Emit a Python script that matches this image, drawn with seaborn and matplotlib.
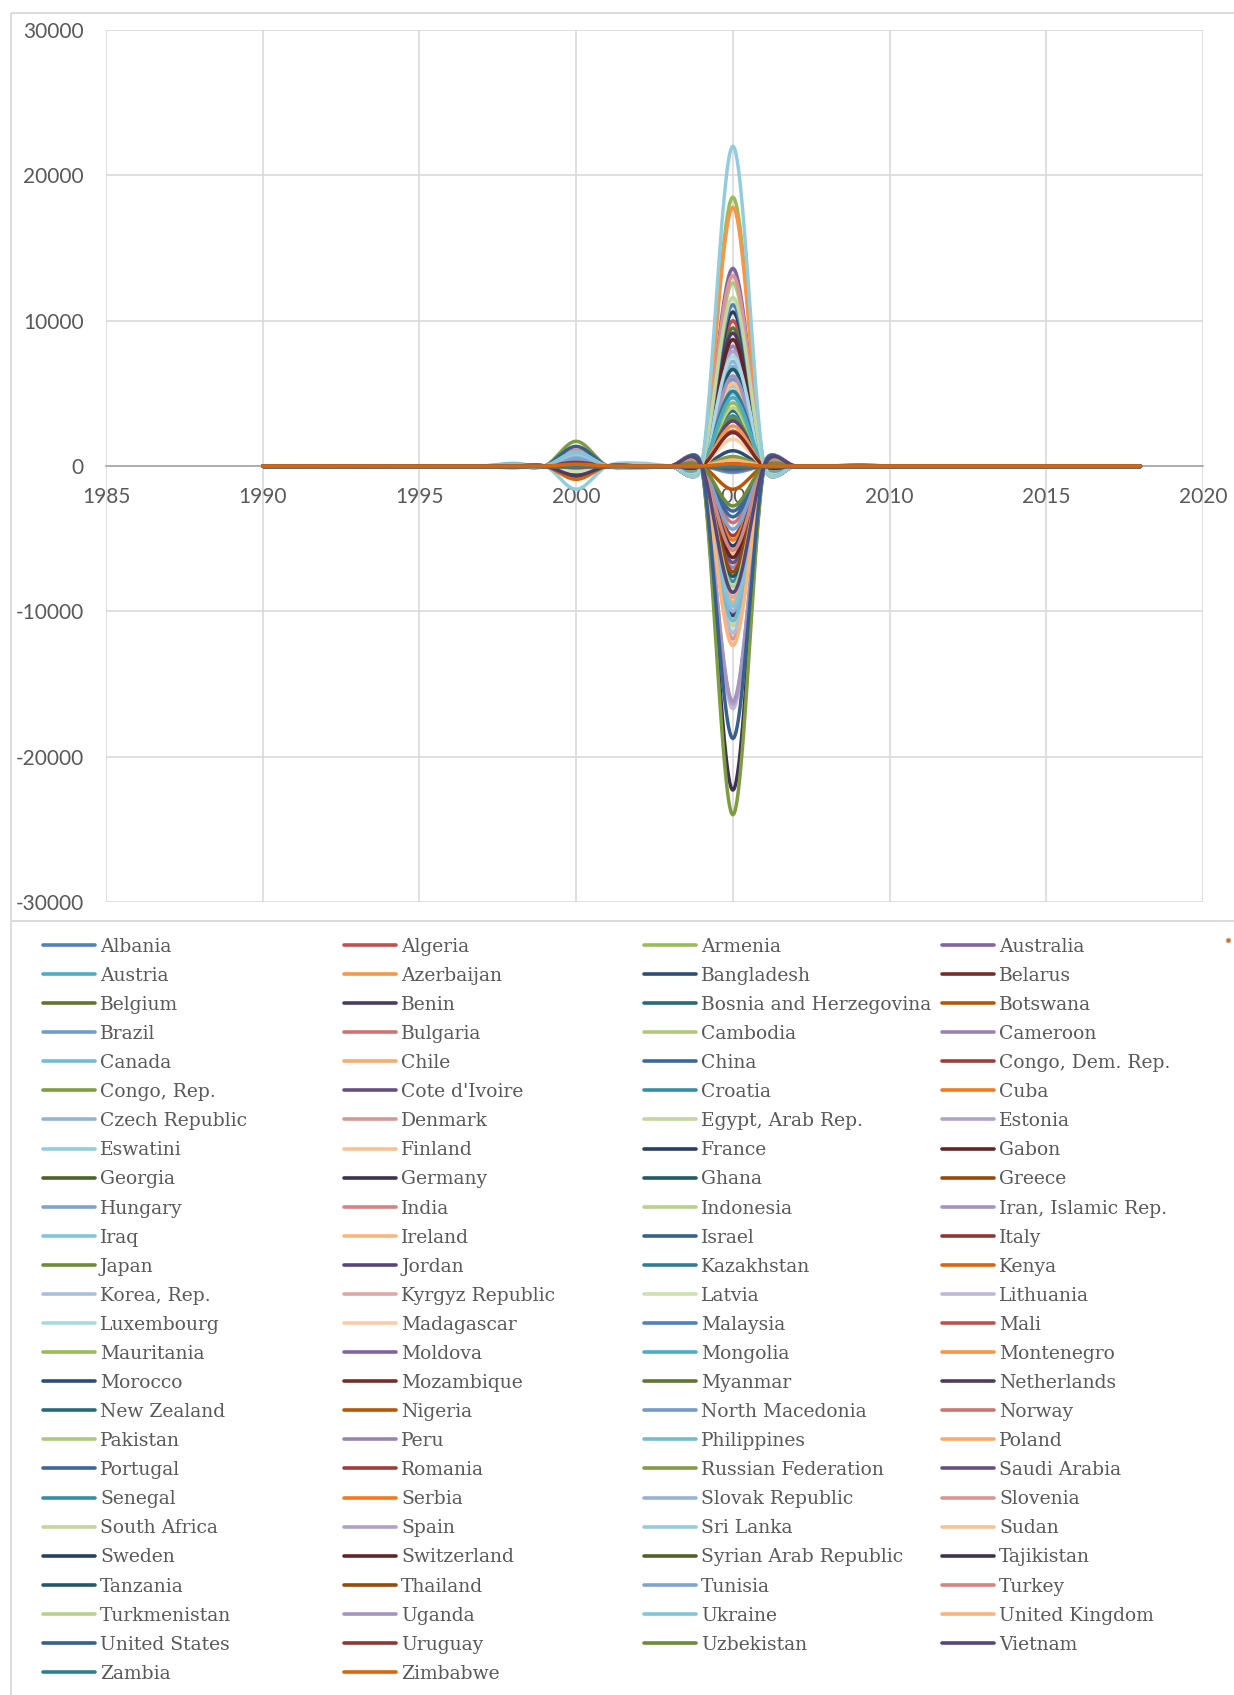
import numpy as np
import pandas as pd
import matplotlib
matplotlib.use("Agg")
import matplotlib.pyplot as plt
import seaborn as sns

years = list(range(1990, 2019))

countries = [
    "Albania", "Algeria", "Armenia", "Australia",
    "Austria", "Azerbaijan", "Bangladesh", "Belarus",
    "Belgium", "Benin", "Bosnia and Herzegovina", "Botswana",
    "Brazil", "Bulgaria", "Cambodia", "Cameroon",
    "Canada", "Chile", "China", "Congo, Dem. Rep.",
    "Congo, Rep.", "Cote d'Ivoire", "Croatia", "Cuba",
    "Czech Republic", "Denmark", "Egypt, Arab Rep.", "Estonia",
    "Eswatini", "Finland", "France", "Gabon",
    "Georgia", "Germany", "Ghana", "Greece",
    "Hungary", "India", "Indonesia", "Iran, Islamic Rep.",
    "Iraq", "Ireland", "Israel", "Italy",
    "Japan", "Jordan", "Kazakhstan", "Kenya",
    "Korea, Rep.", "Kyrgyz Republic", "Latvia", "Lithuania",
    "Luxembourg", "Madagascar", "Malaysia", "Mali",
    "Mauritania", "Moldova", "Mongolia", "Montenegro",
    "Morocco", "Mozambique", "Myanmar", "Netherlands",
    "New Zealand", "Nigeria", "North Macedonia", "Norway",
    "Pakistan", "Peru", "Philippines", "Poland",
    "Portugal", "Romania", "Russian Federation", "Saudi Arabia",
    "Senegal", "Serbia", "Slovak Republic", "Slovenia",
    "South Africa", "Spain", "Sri Lanka", "Sudan",
    "Sweden", "Switzerland", "Syrian Arab Republic", "Tajikistan",
    "Tanzania", "Thailand", "Tunisia", "Turkey",
    "Turkmenistan", "Uganda", "Ukraine", "United Kingdom",
    "United States", "Uruguay", "Uzbekistan", "Vietnam",
    "Zambia", "Zimbabwe",
]

# Yearly values per country (same order as `countries`);
# every year not listed below is zero for all countries.
val_1998 = [
    0, 0, 0, 0,
    0, 0, 0, 0,
    0, 0, 0, 0,
    0, 0, 0, 0,
    180, 0, 0, 0,
    0, 0, 0, 0,
    0, 0, 0, 0,
    -150, 0, 0, 0,
    0, 0, 0, 0,
    0, 0, 0, 0,
    120, 0, 0, 0,
    0, 0, 0, 0,
    0, 0, 0, 0,
    0, 0, 0, 0,
    0, 0, 0, 0,
    0, 0, 0, 0,
    0, 0, 0, 0,
    0, 0, 0, 0,
    0, 0, 0, 0,
    0, 0, 0, 0,
    0, 0, 0, 0,
    0, 0, 0, 0,
    0, 0, 0, 0,
    0, 0, 0, 0,
    0, 0, 0, 0,
    0, 0,
]

val_2000 = [
    0, 250, 0, -300,
    0, 0, 600, 0,
    0, -450, 0, 0,
    0, 0, -350, 0,
    700, 0, 300, 0,
    1700, 0, -250, -150,
    400, 1100, -550, 0,
    -1600, 0, 0, 0,
    0, -700, 0, 0,
    500, 0, 0, 0,
    900, 0, 1350, 250,
    0, -560, 0, -920,
    800, 0, -400, 0,
    0, 0, 0, 0,
    0, 0, 0, 0,
    0, 0, 0, -650,
    0, 0, 0, 0,
    0, 0, 0, 0,
    0, 0, 0, 0,
    0, 0, 0, 0,
    0, 0, 0, 0,
    0, 0, 0, 0,
    0, 0, 0, 0,
    0, 0, 950, 0,
    0, 0, 0, 0,
    0, 120,
]

val_2002 = [
    0, 0, 0, 0,
    0, 0, 0, 0,
    0, 0, 0, 0,
    0, 0, 0, 0,
    120, 0, 0, 0,
    0, 0, 0, 0,
    0, 0, 0, 0,
    200, 0, 0, 0,
    0, 0, 0, 0,
    0, 0, 0, 0,
    -150, 0, 0, 0,
    0, 0, 0, 0,
    0, 0, 0, 0,
    0, 0, 0, 0,
    0, 0, 0, 0,
    0, 0, 0, 0,
    0, 0, 0, 0,
    0, 0, 0, 0,
    0, 0, 0, 0,
    0, 0, 0, 0,
    0, 0, 0, 0,
    0, 0, 0, 0,
    0, 0, 0, 0,
    0, 0, 0, 0,
    0, 0, 0, 0,
    0, 0,
]

val_2005 = [
    300, 10000, 18500, 13600,
    -450, 17800, 1050, 200,
    9500, 9150, 3800, -250,
    5950, 0, 12600, 8250,
    6850, 500, -3100, -150,
    650, 0, 3450, 0,
    7200, -11900, -11000, 7900,
    5500, 5700, 10600, 8700,
    0, -22300, 6650, 0,
    -300, 0, 4000, 6200,
    5000, 400, 0, 0,
    3300, 3100, 5150, 0,
    -11500, -9050, 0, -16700,
    7550, 1850, 11100, 2400,
    4350, -350, 4700, 2750,
    0, 2300, 0, -10300,
    -200, -1600, 0, -3900,
    0, -7000, -10650, -9400,
    -3500, -4800, -24000, -6650,
    -7950, -5100, -10000, 13100,
    11600, -16400, 22000, -6050,
    -5500, -6300, 0, 0,
    -7600, -7300, -4350, -5800,
    -8300, -16200, -9650, -12350,
    -18750, 0, -2750, -8700,
    0, 150,
]

val_2009 = [
    0, 0, 0, 0,
    0, 0, 0, 0,
    0, 0, 0, 0,
    0, 0, 0, 0,
    0, 0, 0, 0,
    0, 0, 0, 0,
    0, 0, 0, 0,
    0, 0, 0, 0,
    60, 0, 0, 0,
    0, 0, 0, 0,
    0, 0, 0, 0,
    0, 0, 0, 0,
    0, 0, 0, 0,
    0, 0, 0, 0,
    0, 0, 0, 0,
    0, 0, 50, 0,
    0, 0, 0, 0,
    0, 0, 0, 0,
    0, 0, 0, 0,
    0, 0, 0, 0,
    0, 0, 0, 0,
    0, 0, 0, 0,
    0, 0, 0, 0,
    0, 0, 0, 0,
    0, 0, 0, 0,
    0, 0,
]

# Office-style series colours: six accents and their shade/tint variants
office_colors = [
    "#4F81BD", "#C0504D", "#9BBB59", "#8064A2", "#4BACC6", "#F79646",
    "#2C4D75", "#772C2A", "#5F7530", "#4D3B62", "#276A7C", "#B65708",
    "#729ACA", "#CD7371", "#AFC97A", "#9983B5", "#6FBDD1", "#F9AB6B",
    "#3A679C", "#9F3B38", "#7E9D40", "#664F83", "#358EA6", "#F37A1F",
    "#95B3D7", "#D99694", "#C3D69B", "#B2A1C7", "#93CDDD", "#FAC090",
    "#254061", "#632523", "#4F6228", "#3F3151", "#215967", "#984807",
    "#7EA3D2", "#D48482", "#B9D28A", "#A594C0", "#80C6D8", "#FAB47C",
    "#37608F", "#8E3634", "#6E8B37", "#58467A", "#2E7E93", "#D9650C",
    "#A8C0DF", "#DFA8A6", "#CFE0B1", "#C3B6D6", "#A8D8E5", "#FBCCA6",
]
palette = {c: office_colors[i % len(office_colors)] for i, c in enumerate(countries)}

yearly = {1998: val_1998, 2000: val_2000, 2002: val_2002,
          2005: val_2005, 2009: val_2009}
table = pd.DataFrame(0.0, index=countries, columns=years)
for yr, vals in yearly.items():
    table[yr] = vals

sns.set_theme(style="white")
plt.rcParams["font.family"] = ["Lato", "DejaVu Sans"]
plt.rcParams["axes.unicode_minus"] = False

W, H = 1234, 1695
fig = plt.figure(figsize=(W / 100, H / 100), dpi=100)

# frame and legend layer in pixel coordinates
lax = fig.add_axes([0, 0, 1, 1], zorder=0)
lax.set_xlim(0, W)
lax.set_ylim(H, 0)
lax.axis("off")

ax = fig.add_axes([106 / W, 1 - 902 / H, 1097 / W, 872 / H], zorder=1)
ax.patch.set_alpha(0)
ax.set_xlim(1985, 2020)
ax.set_ylim(-30000, 30000)
ax.set_xticks(range(1985, 2021, 5))
ax.set_yticks(range(-30000, 30001, 10000))
ax.grid(True, color="#D9D9D9", lw=1.2)
ax.set_axisbelow(True)
for side in ["top", "right", "left"]:
    ax.spines[side].set_visible(False)
ax.spines["bottom"].set_position(("data", 0))
ax.spines["bottom"].set_color("#A6A6A6")
ax.spines["bottom"].set_linewidth(1.2)
ax.spines["bottom"].set_zorder(0.6)
ax.tick_params(length=0, labelsize=15, labelcolor="#595959")
ax.tick_params(axis="x", pad=15)
ax.tick_params(axis="y", pad=16)


def smooth_curve(xv, yv, k=0.8, n=30):
    """Bezier smoothing computed in screen space (spreadsheet-style smoothed line)."""
    P = ax.transData.transform(np.column_stack([xv, yv]))
    m = len(P)
    t = np.linspace(0, 1, n)[1:, None]
    pieces = [P[:1]]
    for i in range(m - 1):
        p0, p1 = P[max(i - 1, 0)], P[i]
        p2, p3 = P[i + 1], P[min(i + 2, m - 1)]
        d12 = np.hypot(*(p2 - p1))

        def arm(a, b):
            v = b - a
            L = np.hypot(*v)
            if L == 0:
                return np.zeros(2)
            return v / L * min(L / 6.0, k * d12)

        c1 = p1 + arm(p0, p2)
        c2 = p2 - arm(p1, p3)
        seg = ((1 - t) ** 3) * p1 + 3 * ((1 - t) ** 2) * t * c1 \
            + 3 * (1 - t) * t ** 2 * c2 + t ** 3 * p2
        pieces.append(seg)
    D = ax.transData.inverted().transform(np.vstack(pieces))
    return D[:, 0], D[:, 1]


frames = []
for c in countries:
    sx, sy = smooth_curve(np.array(years, float), table.loc[c].values.astype(float))
    frames.append(pd.DataFrame({"year": sx, "value": sy, "country": c}))
curves = pd.concat(frames, ignore_index=True)

sns.lineplot(data=curves, x="year", y="value", hue="country",
             hue_order=countries, palette=palette, sort=False,
             estimator=None, legend=False, lw=2.5,
             solid_capstyle="round", ax=ax)
ax.set_xlabel("")
ax.set_ylabel("")

# chart frame
frame_kw = dict(color="#D9D9D9", lw=1.3, solid_capstyle="butt")
lax.plot([11, W], [13, 13], **frame_kw)
lax.plot([11, 11], [13, H], **frame_kw)
lax.plot([11, W], [921, 921], **frame_kw)

# legend: four columns, filled row by row
col_x = [43, 344, 644, 942]
row_y0, row_dy = 945.0, 29.08
for i, name in enumerate(countries):
    r, cidx = divmod(i, 4)
    y = row_y0 + r * row_dy
    x0 = col_x[cidx]
    lax.plot([x0, x0 + 52], [y, y], color=palette[name], lw=2.6,
             solid_capstyle="round")
    lax.text(x0 + 57, y + 6.8, name, family="DejaVu Serif", fontsize=13.5,
             color="#595959", va="baseline", ha="left")

lax.plot([1228], [940], marker="o", ms=3.5, mfc="#E46C0A", mec="#BFBFBF", mew=0.6)

fig.savefig("out.png", dpi=100)
